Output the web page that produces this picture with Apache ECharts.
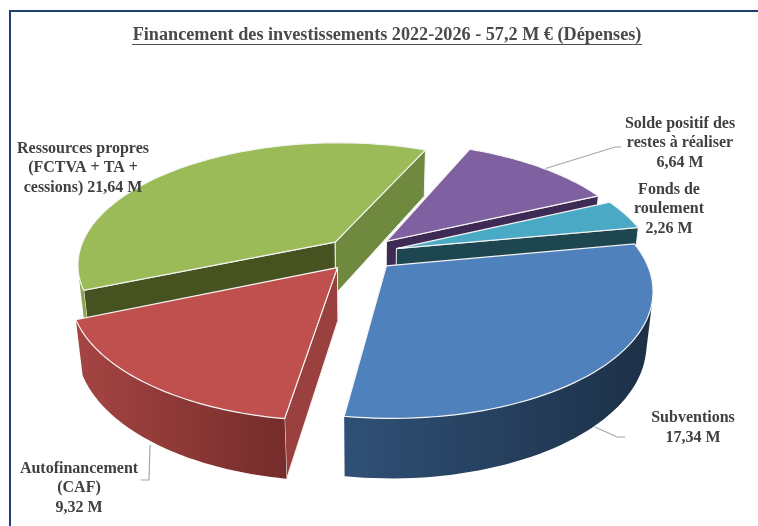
<!DOCTYPE html>
<html>
<head>
<meta charset="utf-8">
<style>html,body{margin:0;padding:0;background:#fff}#main{width:758px;height:526px}</style>
<script src="https://cdn.jsdelivr.net/npm/echarts@6/dist/echarts.min.js"></script>
</head>
<body>
<div id="main"></div>
<script>
// clockwise from the first slice
var categories = ['Solde positif des\nrestes à réaliser\n', 'Fonds de\nroulement\n', 'Subventions\n', 'Autofinancement\n(CAF)\n', 'Ressources propres\n(FCTVA + TA +\ncessions) '];
var values = [6.64, 2.26, 17.34, 9.32, 21.64];
var titleText = 'Financement des investissements 2022-2026 - 57,2 M € (Dépenses)';

var topColors = ['#7f60a0', '#4aa9c5', '#4f81bd', '#c0504d', '#9bbb59'];
var startCut = ['#3e2a55', '#1e4650', '#2c4a70', '#9a403e', '#46521f'];
var endCut = ['#3e2a55', '#1e4650', '#2c4a70', '#9a403e', '#6f8a3e'];
var rimLeft = ['#4a3766', '#2a6474', '#2f5076', '#a54543', '#8aa64e'];
var rimRight = ['#3e2a55', '#1e4650', '#1d3047', '#752c2a', '#8aa64e'];
var explodes = [0.15, 0.15, 0.14, 0.14, 0.14];
var drawOrder = [0, 1, 4, 2, 3];
var labelPos = [[680, 143], [669, 209], [693, 428], [79, 488], [83, 168]];
var leaders = [
	[[544, 169], [615, 147], [621, 147]],
	null,
	[[595, 427], [617, 437], [625, 437]],
	[[150, 445], [149, 480], [141, 480]],
	null
];

// projection of the tilted disc
var cx = 360, cy = 254, R = 257, sinT = 0.47, cosT = 0.883, D = 5;
var height = 0.235, startAngle = 23.5;

function project(x, y, z) {
	var w = y * cosT + z * sinT;
	var s = D / (D - w);
	return [cx + R * x * s, cy + R * (y * sinT - z * cosT) * s];
}

function area(p) {
	var a = 0;
	for (var i = 0; i < p.length; i++) {
		var q = p[(i + 1) % p.length];
		a += p[i][0] * q[1] - q[0] * p[i][1];
	}
	return a;
}

var total = 0;
values.forEach(function (v) { total += v; });
var starts = [];
var acc = startAngle;
values.forEach(function (v) {
	starts.push(acc);
	acc += v / total * 360;
});

function renderSlice(params, api) {
	var i = api.value(0);
	var a1 = starts[i] * Math.PI / 180;
	var a2 = a1 + values[i] / total * 2 * Math.PI;
	var mid = (a1 + a2) / 2;
	var ox = explodes[i] * Math.sin(mid), oy = -explodes[i] * Math.cos(mid);
	var steps = 60;
	var tops = [], bottoms = [];
	for (var k = 0; k <= steps; k++) {
		var a = a1 + (a2 - a1) * k / steps;
		var x = ox + Math.sin(a), y = oy - Math.cos(a);
		tops.push(project(x, y, 0));
		bottoms.push(project(x, y, -height));
	}
	var A = project(ox, oy, 0), B = project(ox, oy, -height);
	var children = [];

	var q1 = [A, tops[0], bottoms[0], B];
	var q2 = [A, tops[steps], bottoms[steps], B];
	if (area(q1) < 0) {
		children.push({ type: 'polygon', shape: { points: q1 }, style: { fill: startCut[i], stroke: '#f2f2f2', lineWidth: 1 } });
	}
	if (area(q2) > 0) {
		children.push({ type: 'polygon', shape: { points: q2 }, style: { fill: endCut[i], stroke: '#f2f2f2', lineWidth: 1 } });
	}

	// outer wall, only the part that faces the viewer
	var up = [], down = [];
	for (k = 0; k < steps; k++) {
		if (area([tops[k], tops[k + 1], bottoms[k + 1], bottoms[k]]) < 0) {
			if (!up.length) { up.push(tops[k]); down.push(bottoms[k]); }
			up.push(tops[k + 1]);
			down.push(bottoms[k + 1]);
		}
	}
	if (up.length) {
		children.push({
			type: 'polygon',
			shape: { points: up.concat(down.reverse()) },
			style: {
				fill: new echarts.graphic.LinearGradient(0, 0, 1, 0, [
					{ offset: 0, color: rimLeft[i] },
					{ offset: 1, color: rimRight[i] }
				])
			}
		});
	}

	children.push({
		type: 'polygon',
		shape: { points: [A].concat(tops) },
		style: { fill: topColors[i], stroke: '#f4f4f4', lineWidth: 1.2 }
	});
	return { type: 'group', children: children };
}

function fmt(v) {
	return v.toFixed(2).replace('.', ',') + ' M';
}

var graphics = [
	{ type: 'rect', shape: { x: 10, y: 10, width: 760, height: 2 }, style: { fill: '#1f3f70' } },
	{ type: 'rect', shape: { x: 9, y: 10, width: 2, height: 520 }, style: { fill: '#1f3f70' } },
	{ type: 'rect', shape: { x: 132, y: 44, width: 510, height: 1 }, style: { fill: '#505050' } },
	{
		type: 'text', x: 387, y: 35, z: 5,
		style: { text: titleText, fill: '#4a4a4a', font: 'bold 18.2px "Liberation Serif"', textAlign: 'center', textVerticalAlign: 'middle' }
	}
];
categories.forEach(function (c, i) {
	graphics.push({
		type: 'text', x: labelPos[i][0], y: labelPos[i][1], z: 5,
		style: {
			text: c + fmt(values[i]),
			fill: '#404040',
			font: 'bold 16px "Liberation Serif"',
			lineHeight: 19.5,
			textAlign: 'center',
			textVerticalAlign: 'middle'
		}
	});
	if (leaders[i]) {
		graphics.push({
			type: 'polyline', z: 1,
			shape: { points: leaders[i] },
			style: { stroke: '#a6a6a6', lineWidth: 1.2, fill: null }
		});
	}
});

var myChart = echarts.init(document.getElementById('main'));
var option = {
	animation: false,
	backgroundColor: '#fff',
	graphic: graphics,
	series: [{
		type: 'custom',
		coordinateSystem: 'none',
		renderItem: renderSlice,
		silent: true,
		clip: false,
		data: drawOrder.map(function (i) { return [i, values[i]]; })
	}]
};
myChart.setOption(option);
</script>
</body>
</html>
